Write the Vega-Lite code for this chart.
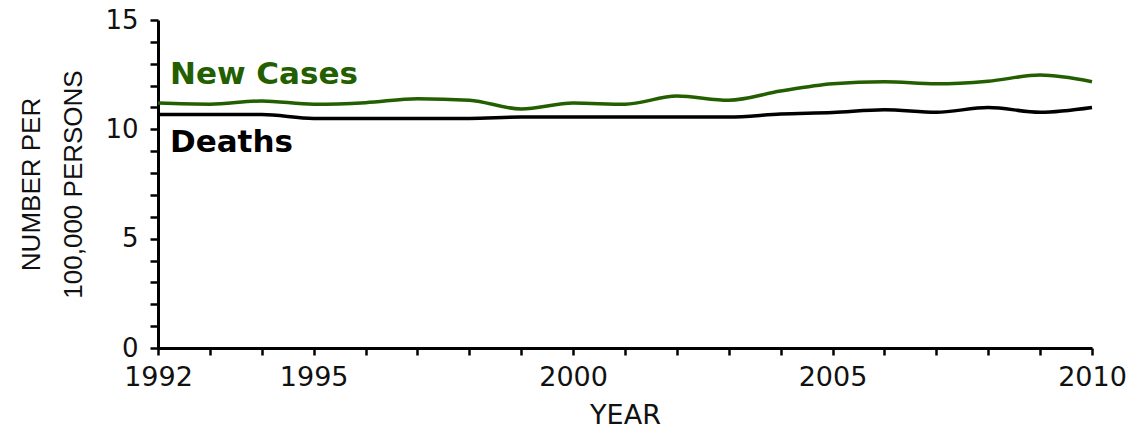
{
  "$schema": "https://vega.github.io/schema/vega-lite/v6.json",
  "autosize": "none",
  "width": 934,
  "height": 328,
  "padding": {"left": 158, "top": 20, "right": 52, "bottom": 81},
  "background": "white",
  "config": {
    "view": {"stroke": null},
    "font": "DejaVu Sans",
    "axis": {"grid": false, "domainColor": "black", "domainWidth": 3, "tickColor": "black", "tickWidth": 2.5, "labelColor": "#111", "titleColor": "#111", "labelFont": "DejaVu Sans", "titleFont": "DejaVu Sans", "titleFontWeight": "normal", "labelOverlap": false}
  },
  "datasets": {
    "series": [
      {"year": 1992, "series": "New Cases", "value": 11.2},
      {"year": 1993, "series": "New Cases", "value": 11.15},
      {"year": 1994, "series": "New Cases", "value": 11.3},
      {"year": 1995, "series": "New Cases", "value": 11.15},
      {"year": 1996, "series": "New Cases", "value": 11.22},
      {"year": 1997, "series": "New Cases", "value": 11.4},
      {"year": 1998, "series": "New Cases", "value": 11.33},
      {"year": 1999, "series": "New Cases", "value": 10.93},
      {"year": 2000, "series": "New Cases", "value": 11.2},
      {"year": 2001, "series": "New Cases", "value": 11.15},
      {"year": 2002, "series": "New Cases", "value": 11.52},
      {"year": 2003, "series": "New Cases", "value": 11.33},
      {"year": 2004, "series": "New Cases", "value": 11.75},
      {"year": 2005, "series": "New Cases", "value": 12.08},
      {"year": 2006, "series": "New Cases", "value": 12.18},
      {"year": 2007, "series": "New Cases", "value": 12.08},
      {"year": 2008, "series": "New Cases", "value": 12.2},
      {"year": 2009, "series": "New Cases", "value": 12.48},
      {"year": 2010, "series": "New Cases", "value": 12.18},
      {"year": 1992, "series": "Deaths", "value": 10.68},
      {"year": 1993, "series": "Deaths", "value": 10.68},
      {"year": 1994, "series": "Deaths", "value": 10.68},
      {"year": 1995, "series": "Deaths", "value": 10.5},
      {"year": 1996, "series": "Deaths", "value": 10.5},
      {"year": 1997, "series": "Deaths", "value": 10.5},
      {"year": 1998, "series": "Deaths", "value": 10.5},
      {"year": 1999, "series": "Deaths", "value": 10.56},
      {"year": 2000, "series": "Deaths", "value": 10.56},
      {"year": 2001, "series": "Deaths", "value": 10.56},
      {"year": 2002, "series": "Deaths", "value": 10.56},
      {"year": 2003, "series": "Deaths", "value": 10.56},
      {"year": 2004, "series": "Deaths", "value": 10.7},
      {"year": 2005, "series": "Deaths", "value": 10.77},
      {"year": 2006, "series": "Deaths", "value": 10.9},
      {"year": 2007, "series": "Deaths", "value": 10.78},
      {"year": 2008, "series": "Deaths", "value": 11.0},
      {"year": 2009, "series": "Deaths", "value": 10.78},
      {"year": 2010, "series": "Deaths", "value": 11.0}
    ],
    "labels": [
      {"year": 1992.23, "value": 12.48, "series": "New Cases", "label": "New Cases"},
      {"year": 1992.23, "value": 9.37, "series": "Deaths", "label": "Deaths"}
    ]
  },
  "encoding": {
    "x": {
      "field": "year", "type": "quantitative",
      "scale": {"domain": [1992, 2010], "nice": false, "zero": false},
      "axis": {
        "values": [1992,1993,1994,1995,1996,1997,1998,1999,2000,2001,2002,2003,2004,2005,2006,2007,2008,2009,2010],
        "labelExpr": "datum.value == 1992 || datum.value % 5 == 0 ? datum.label : ''",
        "format": "d",
        "tickSize": 7,
        "labelPadding": 9,
        "labelFontSize": 27,
        "labelFlush": false,
        "labelOverlap": false,
        "title": "YEAR",
        "titleFontSize": 27,
        "titlePadding": 12
      }
    },
    "y": {
      "field": "value", "type": "quantitative",
      "scale": {"domain": [0, 15], "nice": false},
      "axis": {
        "values": [0,1,2,3,4,5,6,7,8,9,10,11,12,13,14,15],
        "format": "d",
        "labelExpr": "datum.value % 5 == 0 ? datum.label : ''",
        "labelFontSize": 26,
        "tickSize": 8,
        "labelPadding": 12,
        "labelFlush": false,
        "labelOverlap": false,
        "labelBound": false,
        "title": ["NUMBER PER", "100,000 PERSONS"],
        "titleFont": "Liberation Sans",
        "titleFontSize": 26,
        "titleLineHeight": 42,
        "titlePadding": 18
      }
    }
  },
  "layer": [
    {
      "data": {"name": "series"},
      "mark": {"type": "line", "interpolate": "monotone", "strokeWidth": 3.5},
      "encoding": {
        "color": {
          "field": "series", "type": "nominal",
          "scale": {"domain": ["New Cases", "Deaths"], "range": ["#235f00", "#000000"]},
          "legend": null
        }
      }
    },
    {
      "data": {"name": "labels"},
      "mark": {"type": "text", "align": "left", "baseline": "middle", "fontSize": 31, "fontWeight": "bold", "font": "DejaVu Sans"},
      "encoding": {
        "text": {"field": "label"},
        "color": {
          "field": "series", "type": "nominal",
          "scale": {"domain": ["New Cases", "Deaths"], "range": ["#2a6a06", "#000000"]},
          "legend": null
        }
      }
    }
  ]
}
